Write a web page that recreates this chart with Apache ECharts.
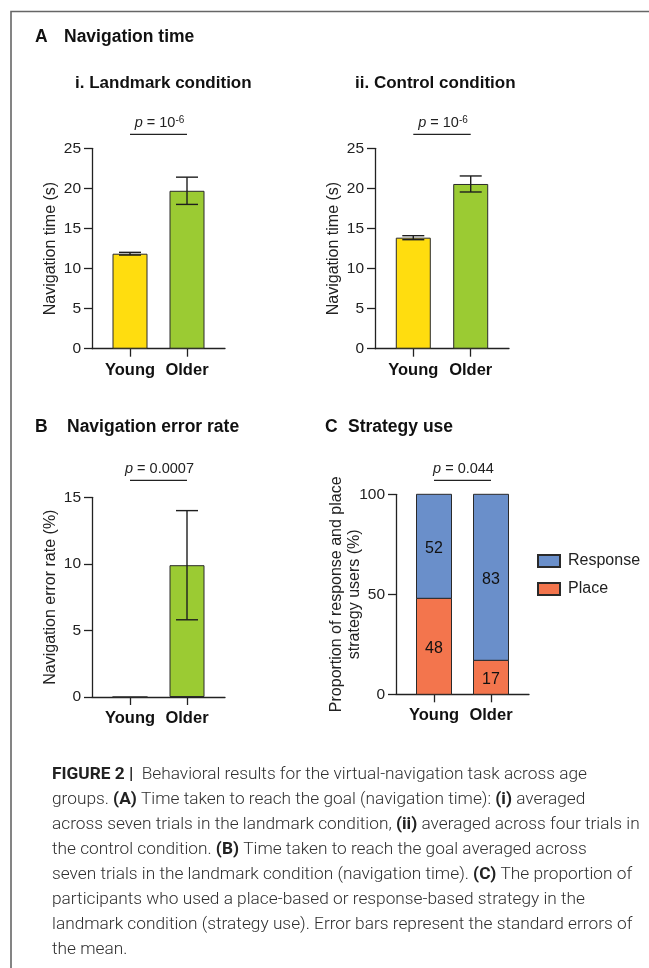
<!DOCTYPE html>
<html><head><meta charset="utf-8">
<script src="https://cdn.jsdelivr.net/npm/echarts@6/dist/echarts.min.js"></script>
<style>html,body{margin:0;padding:0;background:#fff}#c{width:649px;height:968px}</style>
</head><body><div id="c"></div>
<script>
// ---------- data ----------
const categories = ['Young', 'Older'];
const landmarkMean = [11.85, 19.7];
const landmarkSem = [0.17, 1.7];
const controlMean = [13.85, 20.55];
const controlSem = [0.25, 1.0];
const errorRateMean = [0, 9.9];
const errorRateSem = [0, 4.1];
const placePct = [48, 17];
const responsePct = [52, 83];
const timeTicks = [0, 5, 10, 15, 20, 25];
const errorTicks = [0, 5, 10, 15];
const strategyTicks = [0, 50, 100];
const pLabels = ['{i|p} = 10{s|-6}', '{i|p} = 10{s|-6}', '{i|p} = 0.0007', '{i|p} = 0.044'];
const captionLines = [
  '{b|FIGURE 2} {b||}  Behavioral results for the virtual-navigation task across age',
  'groups. {b|(A)} Time taken to reach the goal (navigation time): {b|(i)} averaged',
  'across seven trials in the landmark condition, {b|(ii)} averaged across four trials in',
  'the control condition. {b|(B)} Time taken to reach the goal averaged across',
  'seven trials in the landmark condition (navigation time). {b|(C)} The proportion of',
  'participants who used a place-based or response-based strategy in the',
  'landmark condition (strategy use). Error bars represent the standard errors of',
  'the mean.'
];

// ---------- style ----------
const FONT = '"Liberation Sans", Arial, sans-serif';
const CAP_FONT = '"Roboto", "Liberation Sans", sans-serif';
const YELLOW = '#FFDD0F', GREEN = '#9BCB33', BLUE = '#6A8FCA', ORANGE = '#F3754D';
const INK = '#222';
const XMIN = -2 / 3, XMAX = 5 / 3;

const grids = [
  { left: 92, top: 148.3, width: 133, height: 200.4 },
  { left: 375, top: 148.3, width: 134, height: 200.4 },
  { left: 92, top: 497.3, width: 133, height: 199.7 },
  { left: 396, top: 494.3, width: 133, height: 200 }
];
const sigOffsets = [14, 14, 17, 14];
const nameGaps = [32, 32, 32, 32];
const yTicks = [timeTicks, timeTicks, errorTicks, strategyTicks];
const yNames = ['Navigation time (s)', 'Navigation time (s)', 'Navigation error rate (%)',
  'Proportion of response and place\nstrategy users (%)'];

const xAxes = grids.map((g, i) => ({
  type: 'value', gridIndex: i, min: XMIN, max: XMAX,
  splitLine: { show: false },
  axisLine: { show: true, onZero: false, lineStyle: { color: INK, width: 1.3 } },
  axisTick: { show: true, customValues: [0, 1], length: 8, lineStyle: { color: INK, width: 1.3 } },
  axisLabel: { show: true, customValues: [0, 1], margin: 13,
    formatter: v => categories[Math.round(v)],
    fontFamily: FONT, fontWeight: 'bold', fontSize: 16.5, color: '#111' }
}));
const yAxes = grids.map((g, i) => {
  const t = yTicks[i];
  return {
    type: 'value', gridIndex: i, min: t[0], max: t[t.length - 1], interval: t[1] - t[0],
    splitLine: { show: false },
    axisLine: { show: true, onZero: false, lineStyle: { color: INK, width: 1.3 } },
    axisTick: { show: true, length: 8, lineStyle: { color: INK, width: 1.3 } },
    axisLabel: { margin: 11, fontFamily: FONT, fontSize: 15.5, color: '#222' },
    name: yNames[i], nameLocation: 'middle', nameRotate: 90,
    nameGap: nameGaps[i], nameMoveOverlap: false,
    nameTextStyle: { fontFamily: FONT, fontSize: 16, color: '#222', lineHeight: 18.5 }
  };
});

function errorBarSeries(gi, mean, sem) {
  const d = [];
  mean.forEach((m, k) => { if (sem[k] > 0) d.push([k, m - sem[k], m + sem[k]]); });
  return {
    type: 'custom', xAxisIndex: gi, yAxisIndex: gi, z: 5, data: d,
    encode: { x: 0, y: [1, 2] },
    renderItem(params, api) {
      const x = api.value(0);
      const lo = api.coord([x, api.value(1)]);
      const hi = api.coord([x, api.value(2)]);
      const hw = 11;
      const st = { stroke: '#1e1e1e', lineWidth: 1.4 };
      return { type: 'group', children: [
        { type: 'line', shape: { x1: lo[0], y1: lo[1], x2: hi[0], y2: hi[1] }, style: st },
        { type: 'line', shape: { x1: hi[0] - hw, y1: hi[1], x2: hi[0] + hw, y2: hi[1] }, style: st },
        { type: 'line', shape: { x1: lo[0] - hw, y1: lo[1], x2: lo[0] + hw, y2: lo[1] }, style: st }
      ]};
    }
  };
}
function sigSeries(gi, label) {
  const top = yTicks[gi][yTicks[gi].length - 1];
  return {
    type: 'custom', xAxisIndex: gi, yAxisIndex: gi, clip: false, silent: true,
    data: [[0, 1, top]], encode: { x: [0, 1], y: 2 },
    renderItem(params, api) {
      const a = api.coord([api.value(0), api.value(2)]);
      const b = api.coord([api.value(1), api.value(2)]);
      const y = a[1] - sigOffsets[gi];
      return { type: 'group', children: [
        { type: 'line', shape: { x1: a[0], y1: y, x2: b[0], y2: y }, style: { stroke: '#222', lineWidth: 1.3 } },
        { type: 'text', x: (a[0] + b[0]) / 2 + 1, y: y - 11, style: {
          text: label, align: 'center', verticalAlign: 'middle', fill: '#222',
          fontFamily: FONT, fontSize: 14.5, lineHeight: 16,
          rich: {
            i: { fontFamily: FONT, fontSize: 14.5, fontStyle: 'italic', fill: '#222', lineHeight: 16 },
            s: { fontFamily: FONT, fontSize: 10, fill: '#222', verticalAlign: 'top', lineHeight: 12 }
          } } }
      ]};
    }
  };
}
function barSeries(gi, mean, colors) {
  return {
    type: 'bar', xAxisIndex: gi, yAxisIndex: gi, barWidth: 35,
    data: mean.map((v, k) => ({ value: [k, v], itemStyle: { color: colors[k] } })),
    itemStyle: { borderColor: '#2a2a2a', borderWidth: 1 }
  };
}
// stacked segments for panel C (custom, drawn through the axis scales)
function stackSeries(name, base, vals, color) {
  return {
    name, type: 'custom', xAxisIndex: 3, yAxisIndex: 3,
    itemStyle: { color, borderColor: '#2a2a2a', borderWidth: 1 },
    data: vals.map((v, k) => [k, base[k], base[k] + v, v]),
    encode: { x: 0, y: [1, 2] },
    renderItem(params, api) {
      const x = api.value(0);
      const p0 = api.coord([x, api.value(1)]);
      const p1 = api.coord([x, api.value(2)]);
      const w = 35;
      return { type: 'group', children: [
        { type: 'rect', shape: { x: p0[0] - w / 2, y: p1[1], width: w, height: p0[1] - p1[1] },
          style: { fill: color, stroke: '#2a2a2a', lineWidth: 1 } },
        { type: 'text', x: p0[0], y: (p0[1] + p1[1]) / 2 + 2, style: {
          text: String(api.value(3)), align: 'center', verticalAlign: 'middle',
          fontFamily: FONT, fontSize: 16, fill: '#111' } }
      ]};
    }
  };
}
const zeros = placePct.map(() => 0);

const series = [
  barSeries(0, landmarkMean, [YELLOW, GREEN]), errorBarSeries(0, landmarkMean, landmarkSem), sigSeries(0, pLabels[0]),
  barSeries(1, controlMean, [YELLOW, GREEN]), errorBarSeries(1, controlMean, controlSem), sigSeries(1, pLabels[1]),
  barSeries(2, errorRateMean, [YELLOW, GREEN]), errorBarSeries(2, errorRateMean, errorRateSem), sigSeries(2, pLabels[2]),
  stackSeries('Place', zeros, placePct, ORANGE),
  stackSeries('Response', placePct, responsePct, BLUE),
  sigSeries(3, pLabels[3])
];

const titleStyle = { fontFamily: FONT, fontWeight: 'bold', fontSize: 17, color: '#111', lineHeight: 18 };
const headStyle = Object.assign({}, titleStyle, { fontSize: 17.5 });
function ttl(text, left, cy, st) { return { text, left, top: cy - 9, padding: 0, textStyle: st || titleStyle }; }

const CAP_X = 52;
const graphic = [
  { type: 'polyline', shape: { points: [[11, 968], [11, 11.5], [649, 11.5]] }, style: { stroke: '#666', lineWidth: 1.6, fill: null } }
].concat(captionLines.map((t, i) => ({
  type: 'text', left: CAP_X, top: 776 + i * 25 - 10,
  style: { text: t, fill: '#2e2e2e', fontFamily: CAP_FONT, fontSize: 17.3, fontWeight: 300,
    rich: { b: { fontFamily: CAP_FONT, fontWeight: 'bold', fontSize: 17.3, fill: '#222' } } }
})));

const chart = echarts.init(document.getElementById('c'), null, { width: 649, height: 968 });
chart.setOption({
  backgroundColor: '#fff',
  animation: false,
  title: [
    ttl('A', 35, 37, headStyle), ttl('Navigation time', 64, 37, headStyle),
    ttl('i. Landmark condition', 75, 83), ttl('ii. Control condition', 355, 83),
    ttl('B', 35, 427, headStyle), ttl('Navigation error rate', 67, 427, headStyle),
    ttl('C', 325, 427, headStyle), ttl('Strategy use', 348, 427, headStyle)
  ],
  legend: { data: ['Response', 'Place'], orient: 'vertical', left: 537, top: 553,
    itemWidth: 22, itemHeight: 12, itemGap: 12, padding: 0, icon: 'rect',
    textStyle: { fontFamily: FONT, fontSize: 16, color: '#222', padding: [0, 0, 0, 3] } },
  grid: grids.map(g => Object.assign({ containLabel: false }, g)),
  xAxis: xAxes, yAxis: yAxes, series, graphic
});
</script></body></html>
